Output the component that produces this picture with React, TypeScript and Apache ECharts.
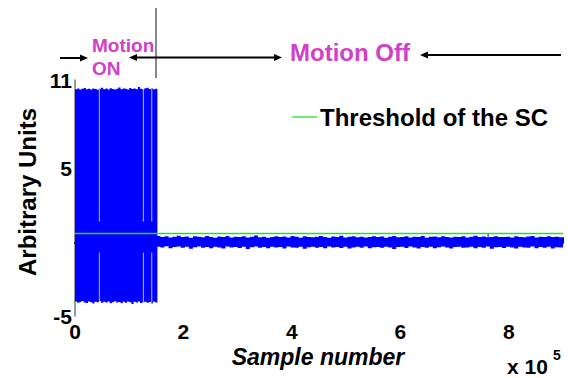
import React, { useEffect, useRef } from "react";
import * as echarts from "echarts";

// ---- data ----
const xTickLabels = ["0", "2", "4", "6", "8"];
const yTickLabels = ["-5", "5", "11"];
const threshold = 0.6;

// "Motion ON" part: envelope of the signal, bins of 4000 samples starting at 0
const onStart = 0;
const onBinWidth = 4000;
const onHigh = [
  10.38, 10.42, 10.35, 10.4, 10.45, 10.37, 10.41, 10.36, 10.43, 10.39,
  10.34, 10.4, 10.47, 10.38, 10.42, 10.36, 10.44, 10.39, 10.35, 10.41,
  10.5, 10.37, 10.43, 10.4, 10.36, 10.46, 10.39, 10.42, 10.38, 10.53,
  10.41, 10.36, 10.44, 10.48, 10.39, 10.42, 10.37, 10.4,
];
const onLow = [
  -4.02, -4.1, -4.05, -3.98, -4.08, -4.12, -4.01, -4.06, -4.15, -4.03,
  -4.07, -3.99, -4.11, -4.04, -4.09, -4.02, -4.13, -4.06, -4.0, -4.08,
  -4.05, -4.14, -4.03, -4.1, -4.01, -4.07, -4.18, -4.04, -4.09, -4.02,
  -4.12, -4.06, -4.03, -4.1, -4.05, -4.16, -4.04, -4.08,
];
// short quiet moments inside the "Motion ON" part
const gapX = [44900, 126100, 141600];
const gapInnerHigh = [1.4, 1.4, 1.4];
const gapInnerLow = [-0.7, -0.7, -0.7];

// "Motion Off" part: bins of 7500 samples starting at 150000
const offStart = 150000;
const offBinWidth = 7500;
const offHigh = [
  0.42, 0.36, 0.4, 0.33, 0.38, 0.44, 0.35, 0.39, 0.31, 0.41,
  0.37, 0.34, 0.43, 0.36, 0.3, 0.39, 0.35, 0.42, 0.33, 0.38,
  0.36, 0.4, 0.32, 0.37, 0.45, 0.34, 0.38, 0.31, 0.36, 0.41,
  0.35, 0.39, 0.33, 0.43, 0.37, 0.3, 0.4, 0.36, 0.34, 0.38,
  0.42, 0.35, 0.31, 0.39, 0.36, 0.44, 0.33, 0.37, 0.4, 0.34,
  0.38, 0.32, 0.36, 0.41, 0.35, 0.39, 0.3, 0.37, 0.43, 0.34,
  0.36, 0.4, 0.33, 0.38, 0.35, 0.42, 0.31, 0.37, 0.39, 0.34,
  0.41, 0.36, 0.32, 0.38, 0.35, 0.4, 0.33, 0.37, 0.44, 0.35,
  0.39, 0.34, 0.36, 0.41, 0.35, 0.35, 0.38, 0.32, 0.4, 0.36,
  0.34, 0.39, 0.43, 0.33, 0.37, 0.35, 0.4, 0.36, 0.38, 0.34,
];
const offLow = [
  -0.3, -0.36, -0.27, -0.41, -0.33, -0.29, -0.38, -0.31, -0.44, -0.34,
  -0.28, -0.37, -0.32, -0.4, -0.3, -0.35, -0.43, -0.29, -0.36, -0.33,
  -0.39, -0.31, -0.45, -0.34, -0.28, -0.37, -0.32, -0.41, -0.3, -0.36,
  -0.33, -0.42, -0.29, -0.35, -0.38, -0.31, -0.44, -0.34, -0.3, -0.37,
  -0.32, -0.4, -0.28, -0.36, -0.33, -0.39, -0.3, -0.43, -0.35, -0.31,
  -0.37, -0.29, -0.41, -0.34, -0.32, -0.38, -0.3, -0.36, -0.45, -0.33,
  -0.31, -0.39, -0.28, -0.35, -0.42, -0.32, -0.37, -0.3, -0.4, -0.34,
  -0.29, -0.36, -0.43, -0.33, -0.31, -0.38, -0.35, -0.3, -0.41, -0.33,
  -0.37, -0.29, -0.44, -0.34, -0.32, -0.39, -0.31, -0.36, -0.42, -0.3,
  -0.35, -0.38, -0.29, -0.4, -0.33, -0.37, -0.31, -0.43, -0.34, -0.36,
];
const spikeX = [761900];
const spikeHigh = [0.6];

const FONT = "'Liberation Sans', Arial, Helvetica, sans-serif";
const MAGENTA = "#d040c8";
const X_MAX = 900000;

type Envelope = { start: number; width: number; high: number[]; low: number[] };
const envelopes: Envelope[] = [
  { start: onStart, width: onBinWidth, high: onHigh, low: onLow },
  { start: offStart, width: offBinWidth, high: offHigh, low: offLow },
];

export default function App() {
  const ref = useRef<HTMLDivElement>(null);

  useEffect(() => {
    if (!ref.current) return;
    const chart = echarts.init(ref.current, null, { renderer: "svg" });

    // one item per envelope: [start, end, min low, max high]
    const envData = envelopes.map((e) => [
      e.start,
      Math.min(X_MAX, e.start + e.width * e.high.length),
      Math.min(...e.low),
      Math.max(...e.high),
    ]);

    const gapData: number[][] = [];
    gapX.forEach((x, i) => {
      const bin = Math.floor((x - onStart) / onBinWidth);
      gapData.push([x, gapInnerHigh[i], onHigh[bin]]);
      gapData.push([x, onLow[bin], gapInnerLow[i]]);
    });
    const spikeData = spikeX.map((x, i) => [x, 0.3, spikeHigh[i]]);

    const envelopeItem = (params: any, api: any) => {
      const e = envelopes[params.dataIndex];
      const n = e.high.length;
      const edge = (i: number) => Math.min(X_MAX, e.start + i * e.width);
      const top: number[][] = [];
      const bottom: number[][] = [];
      for (let i = 0; i < n; i++) {
        top.push(api.coord([edge(i), e.high[i]]));
        top.push(api.coord([edge(i + 1), e.high[i]]));
        bottom.push(api.coord([edge(i), e.low[i]]));
        bottom.push(api.coord([edge(i + 1), e.low[i]]));
      }
      return {
        type: "polygon",
        shape: { points: top.concat(bottom.reverse()) },
        style: { fill: "#0000ff" },
      };
    };
    const lineItem = (color: string) => (params: any, api: any) => {
      const a = api.coord([api.value(0), api.value(2)]);
      const b = api.coord([api.value(0), api.value(1)]);
      return {
        type: "line",
        shape: { x1: a[0], y1: a[1], x2: b[0], y2: b[1] },
        style: { stroke: color, lineWidth: 1 },
      };
    };

    const arrowHead = (x: number, y: number, dir: number) => ({
      type: "polygon",
      shape: { points: [[x, y], [x - dir * 8, y - 3.5], [x - dir * 8, y + 3.5]] },
      style: { fill: "#000" },
      z: 10,
    });
    const hLine = (x1: number, x2: number, y: number) => ({
      type: "line",
      shape: { x1, y1: y, x2, y2: y },
      style: { stroke: "#000", lineWidth: 2 },
      z: 10,
    });

    chart.setOption({
      animation: false,
      backgroundColor: "#fff",
      grid: { left: 75, right: 5, top: 80, bottom: 62 },
      xAxis: {
        type: "value",
        min: 0,
        max: X_MAX,
        interval: 200000,
        axisLine: { lineStyle: { color: "#000", width: 2 } },
        axisTick: { inside: true, length: 5, lineStyle: { color: "#000", width: 1 } },
        splitLine: { show: false },
        axisLabel: {
          color: "#000",
          fontFamily: FONT,
          fontWeight: "bold",
          fontSize: 21,
          margin: 5,
          formatter: (v: number) => {
            const idx = Math.round(v / 200000);
            return v % 200000 === 0 && idx < xTickLabels.length ? xTickLabels[idx] : "";
          },
        },
      },
      yAxis: {
        type: "value",
        min: -5,
        max: 11,
        interval: 1,
        axisLine: { show: true, lineStyle: { color: "#777", width: 1.5 } },
        axisTick: { show: false },
        splitLine: { show: false },
        axisLabel: {
          color: "#000",
          fontFamily: FONT,
          fontWeight: "bold",
          fontSize: 21,
          margin: 3,
          formatter: (v: number) => (yTickLabels.includes(String(v)) ? String(v) : ""),
        },
      },
      series: [
        {
          type: "custom",
          name: "signal",
          renderItem: envelopeItem,
          encode: { x: [0, 1], y: [2, 3] },
          data: envData,
          clip: true,
          z: 2,
        },
        {
          type: "custom",
          name: "gaps",
          renderItem: lineItem("#b8b8f0"),
          encode: { x: 0, y: [1, 2] },
          data: gapData,
          z: 3,
        },
        {
          type: "custom",
          name: "spike",
          renderItem: lineItem("#0000ff"),
          encode: { x: 0, y: [1, 2] },
          data: spikeData,
          z: 3,
        },
        {
          type: "line",
          name: "Threshold of the SC",
          data: [
            [0, threshold],
            [X_MAX, threshold],
          ],
          symbol: "none",
          lineStyle: { color: "#22dd33", width: 1.5 },
          z: 5,
        },
      ],
      graphic: [
        // separator above the axes
        {
          type: "line",
          shape: { x1: 156, y1: 8, x2: 156, y2: 78 },
          style: { stroke: "#888", lineWidth: 2 },
          z: 10,
        },
        hLine(60, 82, 58),
        arrowHead(88, 58, 1),
        hLine(135, 276, 57.5),
        arrowHead(129, 57.5, -1),
        arrowHead(282, 57.5, 1),
        hLine(426, 561, 55),
        arrowHead(420, 55, -1),
        {
          type: "text",
          left: 92,
          top: 34,
          style: {
            text: "Motion\nON",
            fill: MAGENTA,
            font: `bold 19px ${FONT}`,
            lineHeight: 23,
          },
          z: 10,
        },
        {
          type: "text",
          x: 350,
          y: 52,
          style: {
            text: "Motion Off",
            fill: MAGENTA,
            font: `bold 24px ${FONT}`,
            align: "center",
            verticalAlign: "middle",
          },
          z: 10,
        },
        // legend
        {
          type: "line",
          shape: { x1: 292, y1: 117, x2: 317, y2: 117 },
          style: { stroke: "#70ee70", lineWidth: 2 },
          z: 10,
        },
        {
          type: "text",
          x: 320,
          y: 117,
          style: {
            text: "Threshold of the SC",
            fill: "#000",
            font: `bold 24px ${FONT}`,
            verticalAlign: "middle",
          },
          z: 10,
        },
        // axis titles
        {
          type: "text",
          x: 27,
          y: 192,
          rotation: Math.PI / 2,
          style: {
            text: "Arbitrary Units",
            fill: "#000",
            font: `bold 24px ${FONT}`,
            align: "center",
            verticalAlign: "middle",
          },
          z: 10,
        },
        {
          type: "text",
          x: 318,
          y: 357,
          style: {
            text: "Sample number",
            fill: "#000",
            font: `italic bold 23px ${FONT}`,
            align: "center",
            verticalAlign: "middle",
          },
          z: 10,
        },
        {
          type: "text",
          x: 507,
          y: 366,
          style: {
            text: "x 10",
            fill: "#000",
            font: `bold 21px ${FONT}`,
            verticalAlign: "middle",
          },
          z: 10,
        },
        {
          type: "text",
          x: 553,
          y: 355,
          style: {
            text: "5",
            fill: "#000",
            font: `bold 14px ${FONT}`,
            verticalAlign: "middle",
          },
          z: 10,
        },
      ],
    });

    return () => chart.dispose();
  }, []);

  return (
    <div
      ref={ref}
      style={{ position: "fixed", left: 0, top: 0, width: 568, height: 378 }}
    />
  );
}
